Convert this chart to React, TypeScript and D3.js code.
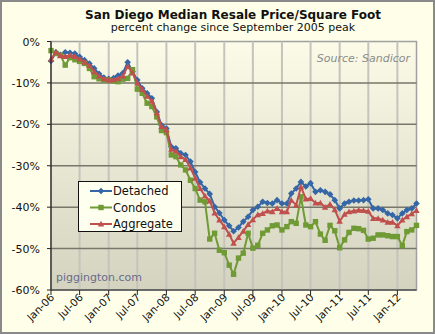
import React from "react";
import * as d3 from "d3";

// Monthly values, Jan-06 .. May-12 (percent change since Sep-2005 peak)
const detached = [
  -4.7, -2.6, -3.2, -2.6, -2.7, -2.9, -3.7, -4.5, -5.3, -6.5, -7.8, -8.7,
  -9.0, -8.8, -8.2, -7.6, -5.0, -7.3, -9.3, -11.3, -12.5, -13.7, -17.0, -20.2,
  -21.0, -25.4, -25.8, -27.0, -27.4, -29.0, -31.5, -34.0, -35.5, -36.8, -39.9, -41.4,
  -43.1, -44.5, -45.8, -44.9, -43.5, -42.3, -40.7, -39.9, -38.7, -39.0, -39.1, -38.3,
  -39.1, -39.1, -36.7, -35.5, -33.9, -35.0, -34.2, -36.3, -35.9, -36.3, -36.9, -38.3,
  -40.3, -39.1, -38.7, -38.4, -38.4, -38.3, -38.1, -40.3, -40.3, -40.7, -41.5, -41.9,
  -42.7, -41.5, -40.7, -40.3, -39.1,
];
const condos = [
  -2.2, -2.9, -3.3, -5.7, -3.9, -4.4, -4.8, -5.3, -6.5, -8.5, -9.0, -9.3,
  -9.3, -9.5, -9.7, -9.1, -8.9, -6.8, -11.5, -12.5, -14.9, -15.7, -18.2, -21.5,
  -22.0, -27.4, -27.8, -29.8, -31.0, -33.5, -35.5, -38.3, -38.7, -47.7, -46.3, -50.4,
  -51.0, -54.0, -56.2, -52.3, -51.1, -46.3, -49.9, -49.2, -46.3, -45.5, -44.5, -44.3,
  -45.5, -44.7, -43.5, -43.9, -37.5, -44.3, -44.7, -43.5, -46.5, -48.0, -44.4, -45.7,
  -49.8, -47.9, -46.1, -45.1, -45.2, -45.6, -47.7, -47.5, -46.7, -46.7, -46.9, -47.1,
  -47.1, -49.3, -45.9, -45.5, -44.4,
];
const aggregate = [
  -4.3, -2.5, -3.4, -3.6, -3.3, -3.6, -4.2, -5.0, -5.8, -7.3, -8.3, -9.0,
  -9.3, -9.2, -8.9, -8.3, -6.0, -7.6, -10.0, -11.6, -13.2, -14.4, -17.2, -20.5,
  -21.3, -26.0, -26.5, -27.8, -28.5, -30.5, -33.0, -35.5, -37.3, -38.5, -41.4, -43.1,
  -44.7, -46.5, -48.7, -47.3, -45.8, -44.2, -43.0, -41.8, -41.5, -40.9, -41.1, -40.3,
  -41.1, -41.1, -38.3, -39.5, -35.1, -38.0, -37.9, -39.0, -39.0, -40.0, -39.3, -40.6,
  -43.4, -41.7, -41.1, -40.9, -40.7, -40.8, -41.0, -42.7, -42.7, -43.1, -43.6, -43.6,
  -44.5, -43.1, -42.3, -41.6, -40.8,
];
const seriesNames = ["Detached", "Condos", "Aggregate"];
const yTicks = [0, -10, -20, -30, -40, -50, -60];
const xTickLabels = ["Jan-06", "Jul-06", "Jan-07", "Jul-07", "Jan-08", "Jul-08", "Jan-09", "Jul-09", "Jan-10", "Jul-10", "Jan-11", "Jul-11", "Jan-12"];

const W = 435, H = 334;
const L = 51, R = 416.5, T = 41.5, B = 290;
const FONT = "'DejaVu Sans', Verdana, sans-serif";

const months = d3.timeMonth.range(new Date(2006, 0, 1), new Date(2006, 0 + detached.length, 1));
const x = d3.scaleTime().domain([months[0], months[months.length - 1]]).range([L, R]);
const y = d3.scaleLinear().domain([-60, 0]).range([B, T]);
const xTicks = d3.timeMonth.every(6)!.range(new Date(2006, 0, 1), new Date(2012, 1, 1));

const colors = ["#3566A6", "#6F9A34", "#C0504D"];
const dataSets = [detached, condos, aggregate];

function Marker({ kind, cx, cy, color }: { kind: number; cx: number; cy: number; color: string }) {
  if (kind === 0) {
    const s = 3.3;
    return <path d={`M${cx},${cy - s}L${cx + s},${cy}L${cx},${cy + s}L${cx - s},${cy}Z`} fill={color} />;
  }
  if (kind === 1) {
    const s = 2.7;
    return <rect x={cx - s} y={cy - s} width={2 * s} height={2 * s} fill={color} />;
  }
  const s = 3.2;
  return <path d={`M${cx},${cy - s}L${cx + s},${cy + s * 0.8}L${cx - s},${cy + s * 0.8}Z`} fill={color} />;
}

export default function App() {
  const line = d3.line<number>().x((_, i) => x(months[i])).y((d) => y(d));
  return (
    <svg width={W} height={H} style={{ position: "absolute", left: 0, top: 0 }} fontFamily={FONT}>
      <defs>
        <linearGradient id="plotbg" x1="0" y1="0" x2="0" y2="1">
          <stop offset="0" stopColor="#FBFBE8" />
          <stop offset="1" stopColor="#D3D3C0" />
        </linearGradient>
      </defs>
      <rect x={0} y={0} width={W} height={H} fill="#FFFFE9" />
      <rect x={1} y={1} width={W - 2} height={H - 2} fill="none" stroke="#8A8A8A" strokeWidth={2} />
      <text x={233} y={18.5} textAnchor="middle" fontSize={12} fontWeight="bold" fill="#111">San Diego Median Resale Price/Square Foot</text>
      <text x={233} y={31} textAnchor="middle" fontSize={11} fill="#111">percent change since September 2005 peak</text>
      <rect x={L} y={T} width={R - L} height={B - T} fill="url(#plotbg)" stroke="#A0A0A0" strokeWidth={1.5} />
      {xTicks.slice(1).map((t, i) => (
        <line key={"vg" + i} x1={x(t)} x2={x(t)} y1={T} y2={B} stroke="#C4C4BC" strokeWidth={2} />
      ))}
      {yTicks.slice(1, -1).map((v) => (
        <line key={"hg" + v} x1={L} x2={R} y1={y(v)} y2={y(v)} stroke="#77776A" strokeWidth={1.5} />
      ))}
      <text x={410} y={62} textAnchor="end" fontSize={11} fontStyle="italic" fill="#8C8C8C">Source: Sandicor</text>
      <text x={56} y={281} fontSize={11} fill="#6B6B8C">piggington.com</text>
      {dataSets.map((ds, k) => (
        <g key={"s" + k}>
          <path d={line(ds) || ""} fill="none" stroke={colors[k]} strokeWidth={2} strokeLinejoin="round" />
          {ds.map((v, i) => (
            <Marker key={i} kind={k} cx={x(months[i])} cy={y(v)} color={colors[k]} />
          ))}
        </g>
      ))}
      <line x1={L} x2={L} y1={T} y2={B} stroke="#222" strokeWidth={1.2} />
      <line x1={L} x2={R} y1={B} y2={B} stroke="#222" strokeWidth={1.2} />
      {yTicks.map((v) => (
        <g key={"yt" + v}>
          <line x1={L - 4} x2={L} y1={y(v)} y2={y(v)} stroke="#222" />
          <text x={40} y={y(v) + 4} textAnchor="end" fontSize={11} fill="#111">{v + "%"}</text>
        </g>
      ))}
      {xTicks.map((t, i) => (
        <g key={"xt" + i}>
          <line x1={x(t)} x2={x(t)} y1={B} y2={B + 5} stroke="#222" />
          <text transform={`translate(${x(t) + 4},${B + 8}) rotate(-45)`} textAnchor="end" fontSize={10.5} fill="#111">{xTickLabels[i]}</text>
        </g>
      ))}
      <rect x={78.5} y={181.5} width={103} height={50} fill="#FFFFF0" stroke="#111" strokeWidth={1} />
      {seriesNames.map((n, k) => {
        const ly = 191 + k * 16.5;
        return (
          <g key={"lg" + k}>
            <line x1={90} x2={112} y1={ly} y2={ly} stroke={colors[k]} strokeWidth={2} />
            <Marker kind={k} cx={101} cy={ly} color={colors[k]} />
            <text x={113} y={ly + 4} fontSize={11.5} fill="#111">{n}</text>
          </g>
        );
      })}
    </svg>
  );
}
